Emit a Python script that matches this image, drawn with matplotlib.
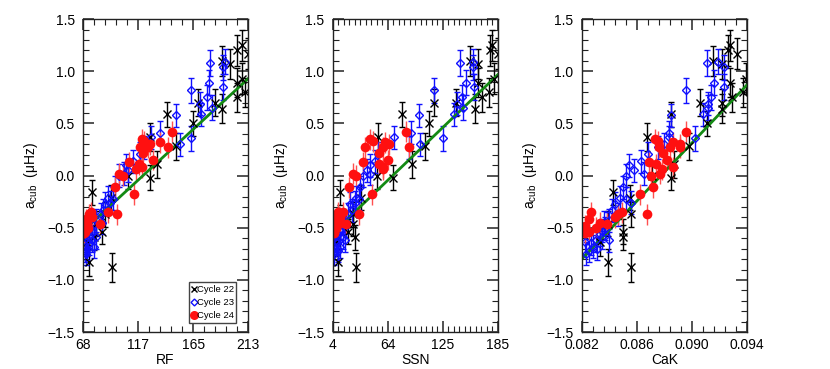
import numpy as np
import matplotlib
matplotlib.use('Agg')
import matplotlib.pyplot as plt
from matplotlib.lines import Line2D
from matplotlib.ticker import FixedLocator, AutoMinorLocator

plt.rcParams['font.family'] = ['Liberation Sans', 'DejaVu Sans']
plt.rcParams['mathtext.fontset'] = 'custom'
plt.rcParams['mathtext.rm'] = 'Liberation Sans'
plt.rcParams['font.size'] = 10

# Cycle 22
c22_acub = [1.25, 1.20, 1.17, 1.10, 1.07, 0.93, 0.89, 0.80, 0.75, 0.70, 0.70, 0.64, 0.59, 0.50,
            0.37, 0.28, 0.11, -0.02, 0.00, -0.16, -0.21, -0.37, -0.46, -0.54, -0.59, -0.64, -0.83, -0.88]
c22_err = [0.15, 0.15, 0.15, 0.14, 0.14, 0.15, 0.14, 0.14, 0.14, 0.13, 0.13, 0.14, 0.12, 0.12,
           0.13, 0.13, 0.13, 0.12, 0.13, 0.12, 0.12, 0.12, 0.12, 0.12, 0.12, 0.13, 0.13, 0.14]
c22_rf = [208, 203, 213, 190, 197, 208, 203, 210, 203, 169, 184, 190, 142, 165,
          127, 150, 133, 127, 108, 76, 93, 88, 80, 85, 78, 72, 74, 94]
c22_ssn = [178, 176, 185, 154, 163, 180, 163, 175, 167, 139, 115, 160, 80, 109,
           54, 105, 91, 70, 52, 12, 35, 26, 26, 21, 28, 8, 10, 30]
c22_cak = [0.0928, 0.0926, 0.0933, 0.0915, 0.0922, 0.0939, 0.0928, 0.0937, 0.0929, 0.0906, 0.0922, 0.0922, 0.0885, 0.0911,
           0.0867, 0.0898, 0.0887, 0.0885, 0.0871, 0.0843, 0.0855, 0.0856, 0.0839, 0.0850, 0.0850, 0.0833, 0.0839, 0.0856]

# Cycle 23
c23_acub = [1.09, 1.08, 1.04, 0.89, 0.85, 0.82, 0.75, 0.69, 0.65, 0.59, 0.58, 0.41, 0.37, 0.36, 0.30,
            0.27, 0.21, 0.14, 0.10, 0.02, 0.00, -0.11, -0.21, -0.22, -0.27, -0.26, -0.37, -0.43, -0.46,
            -0.51, -0.53, -0.56, -0.59, -0.62, -0.62, -0.64, -0.65, -0.70, -0.72, -0.75, -0.68, -0.45,
            -0.33, 0.05]
c23_err = [0.12, 0.12, 0.12, 0.12, 0.12, 0.12, 0.12, 0.11, 0.12, 0.11, 0.11, 0.11, 0.11, 0.12, 0.11,
           0.11, 0.11, 0.11, 0.11, 0.11, 0.11, 0.11, 0.11, 0.11, 0.11, 0.11, 0.11, 0.11, 0.11,
           0.11, 0.11, 0.11, 0.11, 0.11, 0.11, 0.11, 0.11, 0.11, 0.11, 0.11, 0.11, 0.11,
           0.11, 0.11]
c23_rf = [193, 180, 191, 179, 191, 163, 177, 171, 181, 172, 150, 136, 128, 163, 153,
          122, 118, 112, 106, 104, 100, 96, 90, 95, 88, 92, 84, 80, 78,
          74, 76, 72, 80, 73, 76, 71, 74, 72, 70, 71, 78, 85,
          86, 108]
c23_ssn = [158, 143, 158, 150, 159, 115, 145, 140, 147, 137, 98, 90, 71, 125, 99,
           87, 54, 50, 45, 45, 37, 34, 30, 33, 23, 28, 21, 15, 15,
           12, 12, 10, 15, 17, 8, 8, 9, 10, 10, 6, 12, 18,
           25, 42]
c23_cak = [0.0919, 0.0911, 0.0923, 0.0916, 0.0923, 0.0896, 0.0914, 0.0912, 0.0912, 0.0908, 0.0885, 0.0883, 0.0883, 0.0902, 0.0880,
           0.0875, 0.0868, 0.0863, 0.0854, 0.0865, 0.0852, 0.0850, 0.0848, 0.0852, 0.0844, 0.0856, 0.0846, 0.0840, 0.0838,
           0.0837, 0.0835, 0.0833, 0.0835, 0.0840, 0.0830, 0.0822, 0.0827, 0.0831, 0.0825, 0.0823, 0.0828, 0.0836,
           0.0842, 0.0858]

# Cycle 24
c24_acub = [0.42, 0.35, 0.32, 0.30, 0.27, 0.27, 0.27, 0.15, 0.13, 0.11, 0.08, 0.06, 0.02, -0.11, -0.18,
            -0.37, -0.37, -0.35, -0.40, -0.45, -0.46, -0.48, -0.54, -0.35, -0.42, -0.50, -0.55, 0.33, 0.22, 0.00]
c24_err = [0.10, 0.10, 0.10, 0.10, 0.10, 0.10, 0.10, 0.10, 0.10, 0.10, 0.10, 0.10, 0.10, 0.10, 0.10,
           0.10, 0.10, 0.10, 0.10, 0.10, 0.10, 0.10, 0.10, 0.10, 0.10, 0.10, 0.10, 0.10, 0.10, 0.10]
c24_rf = [146, 120, 136, 127, 118, 143, 125, 130, 109, 117, 120, 115, 100, 96, 113,
          98, 74, 90, 76, 72, 83, 70, 70, 75, 71, 73, 69, 122, 121, 103]
c24_ssn = [84, 45, 61, 66, 39, 88, 59, 65, 37, 55, 59, 59, 26, 22, 47,
           33, 10, 15, 12, 12, 19, 4, 6, 10, 8, 8, 5, 48, 55, 30]
c24_cak = [0.0896, 0.0873, 0.0886, 0.0891, 0.0876, 0.0891, 0.0884, 0.0882, 0.0869, 0.0874, 0.0886, 0.0878, 0.0877, 0.0872, 0.0862,
           0.0867, 0.0846, 0.0849, 0.0844, 0.0833, 0.0838, 0.0822, 0.0825, 0.0827, 0.0825, 0.0830, 0.0822, 0.0875, 0.0879, 0.0870]

# linear fits (x range and a_cub at ends)
fit_rf = [68.4, 213.0]
fit_rf_y = [-0.53, 0.93]
fit_ssn = [4.2, 184.8]
fit_ssn_y = [-0.55, 0.97]
fit_cak = [0.082, 0.094]
fit_cak_y = [-0.80, 0.87]

rf_lim = [68.4, 213.0]
ssn_lim = [4.2, 184.8]
cak_lim = [0.082, 0.094]
rf_ticklabels = ['68', '117', '165', '213']
ssn_ticklabels = ['4', '64', '125', '185']
cak_ticklabels = ['0.082', '0.086', '0.090', '0.094']
y_ticks = [-1.5, -1.0, -0.5, 0.0, 0.5, 1.0, 1.5]
y_ticklabels = ['\u22121.5', '\u22121.0', '\u22120.5', '0.0', '0.5', '1.0', '1.5']

panels = [
    ('RF', c22_rf, c23_rf, c24_rf, fit_rf, fit_rf_y, rf_lim, rf_ticklabels, 5),
    ('SSN', c22_ssn, c23_ssn, c24_ssn, fit_ssn, fit_ssn_y, ssn_lim, ssn_ticklabels, 10),
    ('CaK', c22_cak, c23_cak, c24_cak, fit_cak, fit_cak_y, cak_lim, cak_ticklabels, 5),
]

fig = plt.figure(figsize=(8.3, 3.69), dpi=100)
lefts = [0.100, 0.401, 0.701]

for left, (name, x22, x23, x24, fx, fy, lim, tl, nminor) in zip(lefts, panels):
    ax = fig.add_axes([left, 0.100, 0.199, 0.848])
    ax.errorbar(x22, c22_acub, yerr=c22_err, fmt='x', color='black', ecolor='black',
                ms=6, mew=1.0, elinewidth=1.0, capsize=2.5, capthick=1.0)
    ax.errorbar(x23, c23_acub, yerr=c23_err, fmt='D', color='#1010ff', mfc='none', ecolor='#1010ff',
                ms=4, mew=1.0, elinewidth=1.0, capsize=2.5, capthick=1.0)
    ax.errorbar(x24, c24_acub, yerr=c24_err, fmt='o', color='#ff1010', ecolor='#ff5050',
                ms=7, mew=0, elinewidth=1.0, capsize=2.5, capthick=1.0)
    ax.plot(fx, fy, color='#138a13', lw=2)

    ax.set_xlim(lim)
    ax.set_ylim(-1.5, 1.5)
    ax.xaxis.set_major_locator(FixedLocator(np.linspace(lim[0], lim[1], 4)))
    ax.set_xticklabels(tl)
    ax.xaxis.set_minor_locator(AutoMinorLocator(nminor))
    ax.set_yticks(y_ticks)
    ax.set_yticklabels(y_ticklabels)
    ax.yaxis.set_minor_locator(AutoMinorLocator(5))
    ax.tick_params(which='both', direction='in', top=True, right=True)
    ax.tick_params(which='major', length=8, width=1.3, color='#444444')
    ax.tick_params(which='minor', length=4, width=0.8, color='#222222')
    ax.tick_params(axis='y', which='major', pad=6)
    ax.tick_params(axis='x', which='major', pad=4)
    for sp in ax.spines.values():
        sp.set_color('#222222')
        sp.set_linewidth(1.0)
    ax.set_xlabel(name, labelpad=1)
    ax.set_ylabel('$\\mathrm{a}_{\\mathrm{cub}}$  (\u03bcHz)', labelpad=5)

    if name == 'RF':
        handles = [
            Line2D([], [], ls='none', marker='x', color='black', ms=4.5, mew=1.0),
            Line2D([], [], ls='none', marker='D', color='#1010ff', mfc='none', ms=3.5, mew=1.0),
            Line2D([], [], ls='none', marker='o', color='#ff1010', ms=6.5, mew=0),
        ]
        leg = ax.legend(handles, ['Cycle 22', 'Cycle 23', 'Cycle 24'], loc='lower right',
                        bbox_to_anchor=(0.927, 0.03), fontsize=6.8, frameon=True, fancybox=False,
                        edgecolor='#444444', framealpha=1, handlelength=0.5, handletextpad=0.05,
                        borderpad=0.25, labelspacing=0.45, borderaxespad=0)
        leg.get_frame().set_linewidth(1.0)

fig.savefig('out.png', dpi=100)
